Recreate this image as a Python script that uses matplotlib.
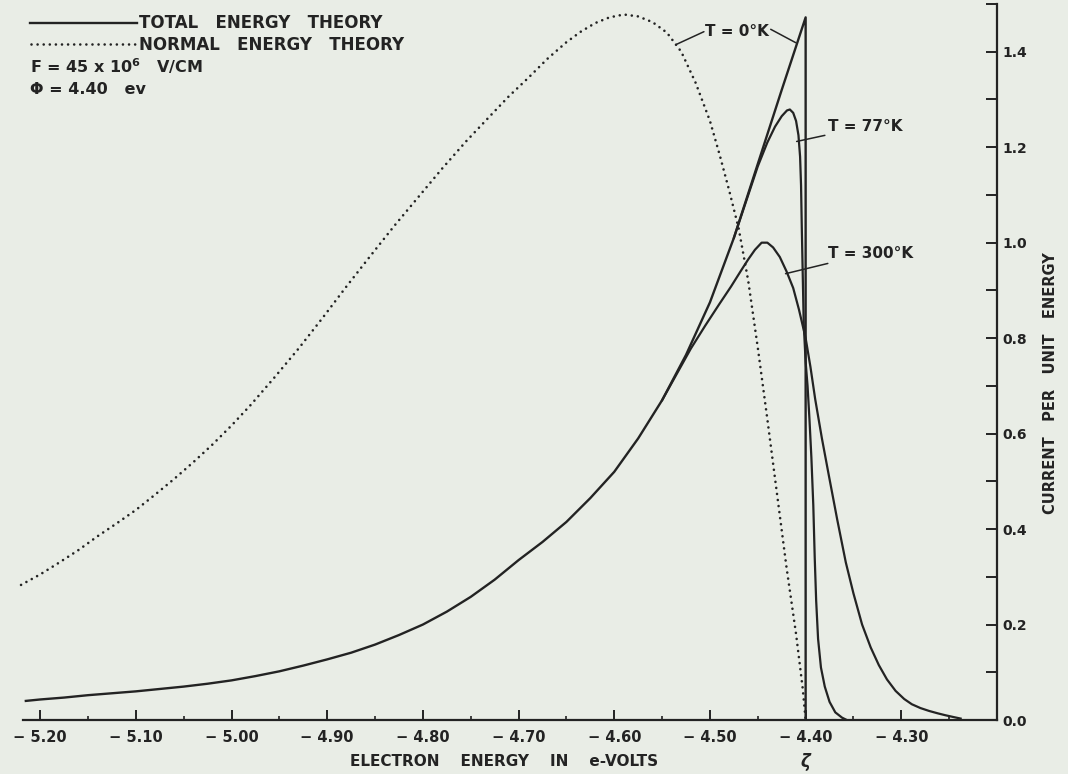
import matplotlib
matplotlib.use("Agg")
import matplotlib.pyplot as plt
from matplotlib.ticker import MultipleLocator, FuncFormatter
from matplotlib.lines import Line2D

plt.rcParams['font.family'] = ['DejaVu Sans']
plt.rcParams['font.weight'] = 'bold'
plt.rcParams['axes.labelweight'] = 'bold'

# total energy theory, T = 0 K (the other temperatures coincide on the low side)
x_t0 = [-5.215, -5.20, -5.175, -5.15, -5.125, -5.10, -5.075, -5.05, -5.025, -5.00,
        -4.975, -4.95, -4.925, -4.90, -4.875, -4.85, -4.825, -4.80, -4.775, -4.75,
        -4.725, -4.70, -4.675, -4.65, -4.625, -4.60, -4.575, -4.55, -4.525, -4.50,
        -4.475, -4.45, -4.425, -4.40, -4.40]
y_t0 = [0.040, 0.043, 0.047, 0.052, 0.056, 0.060, 0.065, 0.070, 0.076, 0.083,
        0.092, 0.102, 0.114, 0.127, 0.141, 0.158, 0.178, 0.200, 0.227, 0.258,
        0.294, 0.335, 0.373, 0.415, 0.465, 0.52, 0.59, 0.67, 0.765, 0.875,
        1.01, 1.165, 1.32, 1.472, 0.0]

# T = 77 K, branches off the T = 0 curve
x_t77 = [-4.475, -4.46, -4.45, -4.44, -4.432, -4.425, -4.4195, -4.4165, -4.413,
         -4.41, -4.4075, -4.4058, -4.4048, -4.404, -4.403, -4.402, -4.40, -4.398,
         -4.396, -4.394, -4.392, -4.3905, -4.389, -4.387, -4.384, -4.38, -4.375,
         -4.369, -4.362, -4.357]
y_t77 = [1.01, 1.10, 1.16, 1.21, 1.243, 1.265, 1.277, 1.279, 1.272,
         1.255, 1.225, 1.18, 1.12, 1.03, 0.93, 0.83, 0.75, 0.70,
         0.63, 0.55, 0.45, 0.34, 0.25, 0.17, 0.11, 0.07, 0.038,
         0.016, 0.005, 0.0]

# T = 300 K
x_t300 = [-4.55, -4.535, -4.52, -4.505, -4.49, -4.478, -4.468, -4.46, -4.453,
          -4.446, -4.44, -4.434, -4.427, -4.42, -4.413, -4.407, -4.40, -4.395,
          -4.39, -4.383, -4.376, -4.367, -4.358, -4.35, -4.341, -4.332, -4.3235,
          -4.315, -4.306, -4.297, -4.289, -4.28, -4.271, -4.262, -4.254, -4.245,
          -4.238]
y_t300 = [0.67, 0.724, 0.778, 0.826, 0.872, 0.908, 0.94, 0.965, 0.985,
          1.0, 1.0, 0.99, 0.97, 0.94, 0.905, 0.86, 0.80, 0.74,
          0.672, 0.59, 0.515, 0.42, 0.33, 0.265, 0.20, 0.152, 0.115,
          0.085, 0.061, 0.044, 0.033, 0.025, 0.019, 0.014, 0.010, 0.006,
          0.003]

# normal energy theory (dotted)
x_norm = [-5.22, -5.20, -5.18, -5.16, -5.14, -5.12, -5.10, -5.08, -5.06, -5.04,
          -5.02, -5.00, -4.98, -4.955, -4.93, -4.905, -4.88, -4.855, -4.83, -4.805,
          -4.78, -4.755, -4.73, -4.71, -4.69, -4.67, -4.65, -4.635, -4.62, -4.605,
          -4.59, -4.575, -4.56, -4.545, -4.53, -4.515, -4.50, -4.49, -4.48, -4.47,
          -4.46, -4.45, -4.44, -4.43, -4.42, -4.41, -4.403, -4.40]
y_norm = [0.283, 0.305, 0.330, 0.356, 0.385, 0.412, 0.440, 0.472, 0.505, 0.540,
          0.577, 0.617, 0.660, 0.718, 0.778, 0.842, 0.908, 0.972, 1.035, 1.095,
          1.155, 1.212, 1.265, 1.307, 1.345, 1.385, 1.420, 1.442, 1.460, 1.472,
          1.478, 1.474, 1.462, 1.440, 1.400, 1.335, 1.255, 1.185, 1.11, 1.03,
          0.92, 0.78, 0.63, 0.475, 0.32, 0.18, 0.065, 0.0]

x_ticks = [-5.20, -5.10, -5.00, -4.90, -4.80, -4.70, -4.60, -4.50, -4.40, -4.30]
y_ticks = [0.0, 0.2, 0.4, 0.6, 0.8, 1.0, 1.2, 1.4]

bg = '#e9ede6'
ink = '#232323'
dots = (0, (0.01, 2.3))

fig = plt.figure(figsize=(10.68, 7.74), dpi=100, facecolor=bg)
ax = fig.add_axes([0, 54 / 774, 997 / 1068, 716 / 774])
ax.set_facecolor(bg)

ax.plot(x_norm, y_norm, color=ink, lw=1.9, ls=dots, dash_capstyle='round')
ax.plot(x_t300, y_t300, color=ink, lw=1.6)
ax.plot(x_t77, y_t77, color=ink, lw=1.6)
ax.plot(x_t0, y_t0, color=ink, lw=1.7)

ax.set_xlim(-5.242, -4.20)
ax.set_ylim(0, 1.5)

for s in ['left', 'top']:
    ax.spines[s].set_visible(False)
ax.spines['bottom'].set_bounds(-5.218, -4.20)
for s in ['bottom', 'right']:
    ax.spines[s].set_color(ink)
    ax.spines[s].set_linewidth(1.6)

ax.xaxis.set_major_locator(plt.FixedLocator(x_ticks))
ax.xaxis.set_minor_locator(MultipleLocator(0.05))
ax.xaxis.set_major_formatter(FuncFormatter(lambda v, p: '\u2212 %.2f' % abs(v)))
ax.tick_params(axis='x', which='major', direction='in', length=7, width=1.4,
               color=ink, labelcolor=ink, labelsize=10.5, pad=7)
ax.tick_params(axis='x', which='minor', direction='in', length=3, width=1.2, color=ink)

ax.yaxis.tick_right()
ax.yaxis.set_major_locator(plt.FixedLocator(y_ticks))
ax.yaxis.set_minor_locator(MultipleLocator(0.1))
ax.yaxis.set_major_formatter(FuncFormatter(lambda v, p: '%.1f' % v))
ax.tick_params(axis='y', which='both', direction='in', length=8, width=1.4,
               color=ink, labelcolor=ink, labelsize=10, pad=4)

ax.set_xlabel('ELECTRON    ENERGY    IN    e-VOLTS', fontsize=11, color=ink)
ax.xaxis.set_label_coords(0.506, -0.047)
ax.yaxis.set_label_position('right')
ax.set_ylabel('CURRENT   PER   UNIT   ENERGY', fontsize=10.5, color=ink, rotation=90)
ax.yaxis.set_label_coords(1.046, 0.47)

ax.text(-4.40, -0.058, '\u03b6', transform=ax.get_xaxis_transform(),
        ha='center', va='center', fontsize=12, color=ink, fontstyle='italic')

# curve labels with leader lines
lead = dict(arrowstyle='-', color=ink, lw=1.1, shrinkA=0, shrinkB=0)
ax.annotate('', xy=(-4.5355, 1.415), xytext=(-4.5063, 1.442), arrowprops=lead)
ax.text(-4.505, 1.442, 'T = 0\u00b0K', fontsize=11, color=ink, va='center', ha='left')
ax.annotate('', xy=(-4.4104, 1.419), xytext=(-4.4365, 1.447), arrowprops=lead)
ax.annotate('T = 77\u00b0K', xy=(-4.4094, 1.212), xytext=(-4.377, 1.243),
            fontsize=11, color=ink, va='center', ha='left', arrowprops=lead)
ax.annotate('T = 300\u00b0K', xy=(-4.421, 0.935), xytext=(-4.377, 0.978),
            fontsize=11, color=ink, va='center', ha='left', arrowprops=lead)

# legend block in the upper left
W, H = 1068.0, 774.0
fig.add_artist(Line2D([30 / W, 137 / W], [1 - 23 / H, 1 - 23 / H], color=ink, lw=1.7))
fig.add_artist(Line2D([31 / W, 137 / W], [1 - 44 / H, 1 - 44 / H], color=ink, lw=1.9,
                      ls=dots, dash_capstyle='round'))
fig.text(139 / W, 1 - 23 / H, 'TOTAL   ENERGY   THEORY', fontsize=12, color=ink, va='center')
fig.text(139 / W, 1 - 45 / H, 'NORMAL   ENERGY   THEORY', fontsize=12, color=ink, va='center')
fig.text(30 / W, 1 - 66 / H, r'F = 45 x 10$^{6}$   V/CM', fontsize=11.5, color=ink, va='center')
fig.text(30 / W, 1 - 89 / H, '\u03a6 = 4.40   ev', fontsize=11.5, color=ink, va='center')

fig.savefig('out.png', dpi=100, facecolor=bg)
